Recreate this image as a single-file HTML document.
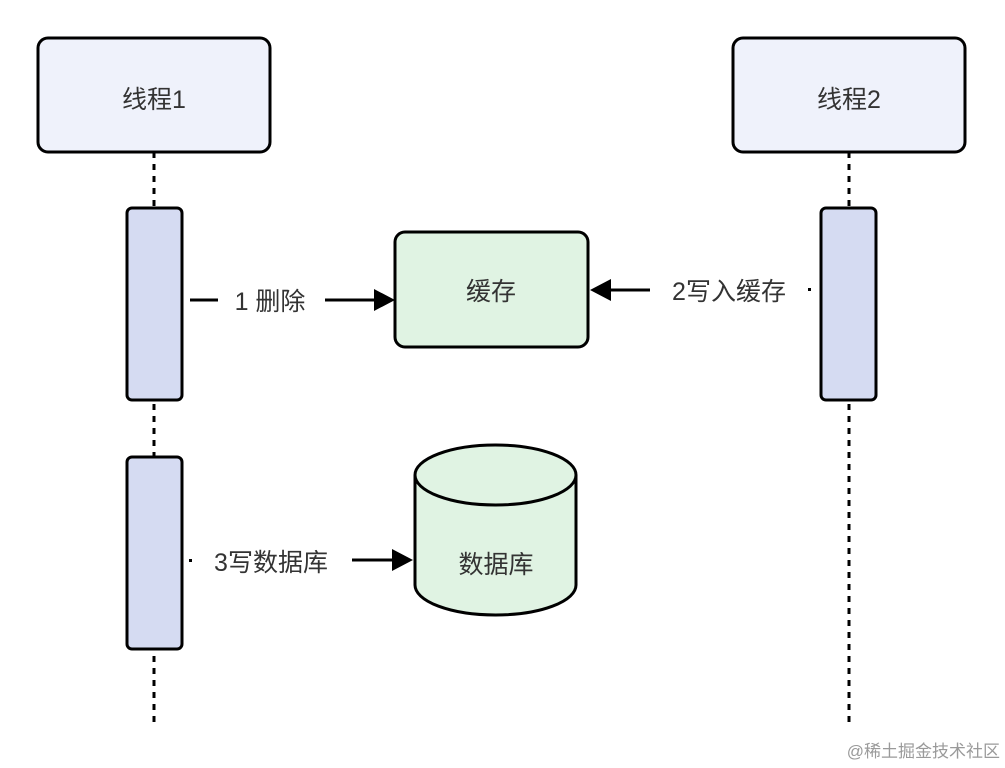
<!DOCTYPE html>
<html><head><meta charset="utf-8"><style>
html,body{margin:0;padding:0;background:#fff;}
svg{display:block;}
text{font-family:"Liberation Sans","Noto Sans CJK SC",sans-serif;fill:#333;}
</style></head><body>
<svg width="1005" height="768" viewBox="0 0 1005 768">
<g stroke="#000" stroke-width="3" stroke-dasharray="6,6">
<line x1="154" y1="152" x2="154" y2="725"/>
<line x1="849" y1="152" x2="849" y2="725"/>
</g>
<g stroke="#000" stroke-width="3">
<rect x="38" y="38" width="232" height="114" rx="10" fill="#eff2fb"/>
<rect x="733" y="38" width="232" height="114" rx="10" fill="#eff2fb"/>
<rect x="127" y="208" width="55" height="192" rx="5" fill="#d5dbf2"/>
<rect x="127" y="457" width="55" height="192" rx="5" fill="#d5dbf2"/>
<rect x="821" y="208" width="55" height="192" rx="5" fill="#d5dbf2"/>
<rect x="395" y="232" width="193" height="115" rx="10" fill="#e0f3e3"/>
<path d="M415,475 L415,585 A80.5,30 0 0 0 576,585 L576,475" fill="#e0f3e3"/>
<ellipse cx="495.5" cy="475" rx="80.5" ry="30" fill="#e0f3e3"/>
</g>
<text x="154" y="108" font-size="25" text-anchor="middle">线程1</text>
<text x="849" y="108" font-size="25" text-anchor="middle">线程2</text>
<text x="491" y="300" font-size="25" text-anchor="middle">缓存</text>
<text x="496" y="573" font-size="25" text-anchor="middle">数据库</text>
<g stroke="#000" stroke-width="3">
<line x1="190" y1="300" x2="218" y2="300"/>
<line x1="325" y1="300" x2="378" y2="300"/>
<line x1="650" y1="290" x2="607" y2="290"/>
<line x1="352" y1="560" x2="395" y2="560"/>
</g>
<polygon points="395,300 374,289 374,311" fill="#000"/>
<polygon points="590,290 611,279 611,301" fill="#000"/>
<polygon points="413,560 392,549 392,571" fill="#000"/>
<rect x="808" y="288" width="3" height="3" fill="#000"/>
<rect x="189" y="559" width="3" height="3" fill="#000"/>
<text x="270" y="310" font-size="25" text-anchor="middle">1 删除</text>
<text x="729" y="300" font-size="25" text-anchor="middle">2写入缓存</text>
<text x="271" y="571" font-size="25" text-anchor="middle">3写数据库</text>
<text x="1000" y="757" font-size="17" text-anchor="end" style="fill:#9a9a9a">@稀土掘金技术社区</text>
</svg>
</body></html>
